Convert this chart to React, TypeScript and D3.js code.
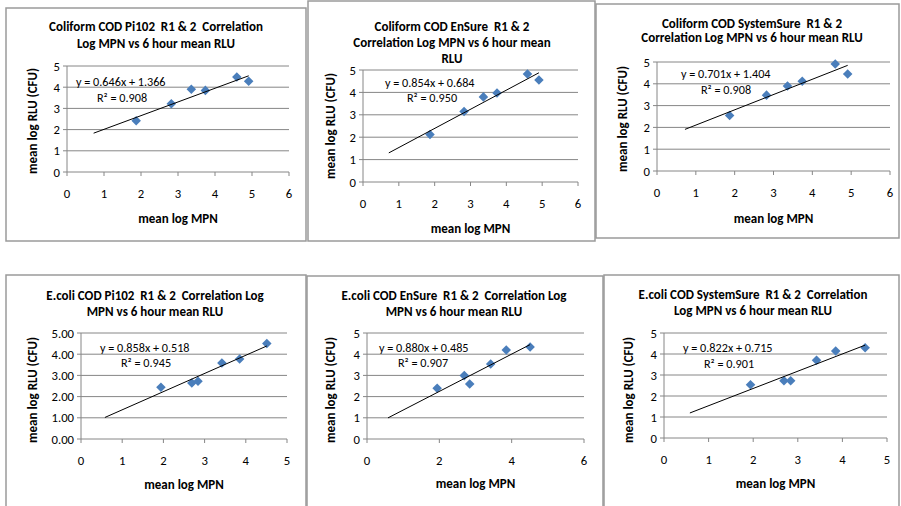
import React from "react";
import * as d3 from "d3";

// ---- data ----
const coliformX = [1.87, 2.82, 3.36, 3.74, 4.59, 4.91];
const coliPi102Y = [2.42, 3.22, 3.9, 3.85, 4.48, 4.28];
const coliEnSureY = [2.12, 3.15, 3.8, 3.97, 4.82, 4.55];
const coliSystemSureY = [2.55, 3.48, 3.9, 4.12, 4.91, 4.45];
const ecoliX = [1.94, 2.69, 2.84, 3.42, 3.85, 4.51];
const ecoliPi102Y = [2.44, 2.64, 2.72, 3.58, 3.77, 4.5];
const ecoliEnSureY = [2.39, 2.99, 2.59, 3.54, 4.2, 4.34];
const ecoliSystemSureY = [2.54, 2.73, 2.73, 3.7, 4.14, 4.3];

const slopes = [0.646, 0.854, 0.701, 0.858, 0.88, 0.822];
const intercepts = [1.366, 0.684, 1.404, 0.518, 0.485, 0.715];
const r2s = ["0.908", "0.950", "0.908", "0.945", "0.907", "0.901"];
const coliTrendRange = [0.72, 4.91];
const ecoliTrendRange = [0.58, 4.51];

const titles = [
  ["Coliform COD Pi102  R1 & 2  Correlation", "Log MPN vs 6 hour mean RLU"],
  ["Coliform COD EnSure  R1 & 2", "Correlation Log MPN vs 6 hour mean", "RLU"],
  ["Coliform COD SystemSure  R1 & 2", "Correlation Log MPN vs 6 hour mean RLU"],
  ["E.coli COD Pi102  R1 & 2  Correlation Log", "MPN vs 6 hour mean RLU"],
  ["E.coli COD EnSure  R1 & 2  Correlation Log", "MPN vs 6 hour mean RLU"],
  ["E.coli COD SystemSure  R1 & 2  Correlation", "Log MPN vs 6 hour mean RLU"],
];
const xTicks6 = [0, 1, 2, 3, 4, 5, 6];
const xTicks5 = [0, 1, 2, 3, 4, 5];
const xTicksEven = [0, 2, 4, 6];
const yTicks = [0, 1, 2, 3, 4, 5];
const xLabel = "mean log MPN";
const yLabel = "mean log RLU (CFU)";

// ---- layout ----
type Panel = {
  box: [number, number, number, number];
  px: [number, number];
  py: [number, number];
  xMax: number;
  xTicks: number[];
  yFmt: (v: number) => string;
  xs: number[];
  ys: number[];
  trend: number[];
  titleX: number;
  titleY: number[];
  eq: [number, number];
  r2: [number, number];
  xLabelY: number;
  yLabelX: number;
  yLabelY: number;
};

const intFmt = (v: number) => String(v);
const decFmt = d3.format(".2f");

const panels: Panel[] = [
  { box: [6, 8, 306, 241], px: [67, 289], py: [172, 66], xMax: 6, xTicks: xTicks6, yFmt: intFmt,
    xs: coliformX, ys: coliPi102Y, trend: coliTrendRange, titleX: 156, titleY: [30.5, 47.5],
    eq: [76, 85.5], r2: [97, 101.5], xLabelY: 222.5, yLabelX: 32, yLabelY: 121 },
  { box: [308, 1, 595, 241], px: [363, 578], py: [182, 70], xMax: 6, xTicks: xTicks6, yFmt: intFmt,
    xs: coliformX, ys: coliEnSureY, trend: coliTrendRange, titleX: 452, titleY: [30.5, 47, 62.5],
    eq: [385, 87], r2: [407, 101.5], xLabelY: 232.5, yLabelX: 330, yLabelY: 126 },
  { box: [596, 4, 899, 238], px: [657, 890], py: [171, 62], xMax: 6, xTicks: xTicks6, yFmt: intFmt,
    xs: coliformX, ys: coliSystemSureY, trend: coliTrendRange, titleX: 752, titleY: [27.5, 41.5],
    eq: [681, 77.5], r2: [701, 93.5], xLabelY: 222.5, yLabelX: 622, yLabelY: 119 },
  { box: [6, 275, 306, 520], px: [81, 287], py: [439, 333], xMax: 5, xTicks: xTicks5, yFmt: decFmt,
    xs: ecoliX, ys: ecoliPi102Y, trend: ecoliTrendRange, titleX: 155, titleY: [299.5, 315.5],
    eq: [100, 351.5], r2: [121, 366.5], xLabelY: 489, yLabelX: 32, yLabelY: 390 },
  { box: [307, 276, 603, 520], px: [367, 584], py: [439, 333], xMax: 6, xTicks: xTicksEven, yFmt: intFmt,
    xs: ecoliX, ys: ecoliEnSureY, trend: ecoliTrendRange, titleX: 454, titleY: [299.5, 315.5],
    eq: [379, 351.5], r2: [398, 366.5], xLabelY: 487.5, yLabelX: 330, yLabelY: 390 },
  { box: [604, 275, 899, 520], px: [664, 887], py: [438, 333], xMax: 5, xTicks: xTicks5, yFmt: intFmt,
    xs: ecoliX, ys: ecoliSystemSureY, trend: ecoliTrendRange, titleX: 753, titleY: [298.5, 314.5],
    eq: [683, 351.5], r2: [704, 367.5], xLabelY: 487.5, yLabelX: 628, yLabelY: 390 },
];

const FONT = "Carlito, Calibri, Lato, 'Open Sans', sans-serif";
const GRID = "#868686";
const MARK = "#4a7ebb";
const FS = 13;
const FSR = 12.2;

function Chart({ p, i }: { p: Panel; i: number }) {
  const x = d3.scaleLinear().domain([0, p.xMax]).range(p.px);
  const y = d3.scaleLinear().domain([0, 5]).range(p.py);
  const [bx0, by0, bx1, by1] = p.box;
  const line = d3.line<number>().x((d) => x(d)).y((d) => y(slopes[i] * d + intercepts[i]));
  const diamond = d3.symbol().type(d3.symbolDiamond2).size(58)();
  return (
    <g>
      <rect x={bx0} y={by0} width={bx1 - bx0} height={by1 - by0} fill="#fff" stroke="#9a9a9a" strokeWidth={1.5} />
      {p.titleY.map((ty, k) => (
        <text key={k} x={p.titleX} y={ty} textAnchor="middle" fontWeight="bold" fontSize={FS} style={{ whiteSpace: "pre" }}>{titles[i][k]}</text>
      ))}
      {yTicks.map((t) => (
        <g key={t}>
          <line x1={p.px[0] - 4} x2={p.px[1]} y1={y(t)} y2={y(t)} stroke={GRID} strokeWidth={1} />
          <text x={p.px[0] - 7} y={y(t) + 4.5} textAnchor="end" fontSize={FSR + 0.5}>{p.yFmt(t)}</text>
        </g>
      ))}
      <line x1={p.px[0]} x2={p.px[0]} y1={p.py[0]} y2={p.py[1]} stroke={GRID} />
      {p.xTicks.map((t) => (
        <g key={t}>
          <line x1={x(t)} x2={x(t)} y1={p.py[0]} y2={p.py[0] + 4} stroke={GRID} />
          <text x={x(t)} y={p.py[0] + 25.5} textAnchor="middle" fontSize={FSR + 0.5}>{t}</text>
        </g>
      ))}
      {p.xs.map((xv, k) => (
        <path key={k} d={diamond!} transform={`translate(${x(xv)},${y(p.ys[k])})`} fill={MARK} />
      ))}
      <path d={line(p.trend)!} stroke="#000" strokeWidth={1} fill="none" />
      <text x={p.eq[0]} y={p.eq[1]} fontSize={FSR}>{`y = ${slopes[i].toFixed(3)}x + ${intercepts[i].toFixed(3)}`}</text>
      <text x={p.r2[0]} y={p.r2[1]} fontSize={FSR}>R² = {r2s[i]}</text>
      <text x={(p.px[0] + p.px[1]) / 2} y={p.xLabelY} textAnchor="middle" fontWeight="bold" fontSize={FS}>{xLabel}</text>
      <text transform={`translate(${p.yLabelX},${p.yLabelY}) rotate(-90)`} textAnchor="middle" dy="0.35em" fontWeight="bold" fontSize={FS}>{yLabel}</text>
    </g>
  );
}

export default function App() {
  return (
    <svg width={901} height={506} style={{ position: "absolute", left: 0, top: 0, fontFamily: FONT }}>
      <rect width={901} height={506} fill="#fff" />
      {panels.map((p, i) => (
        <Chart key={i} p={p} i={i} />
      ))}
    </svg>
  );
}
